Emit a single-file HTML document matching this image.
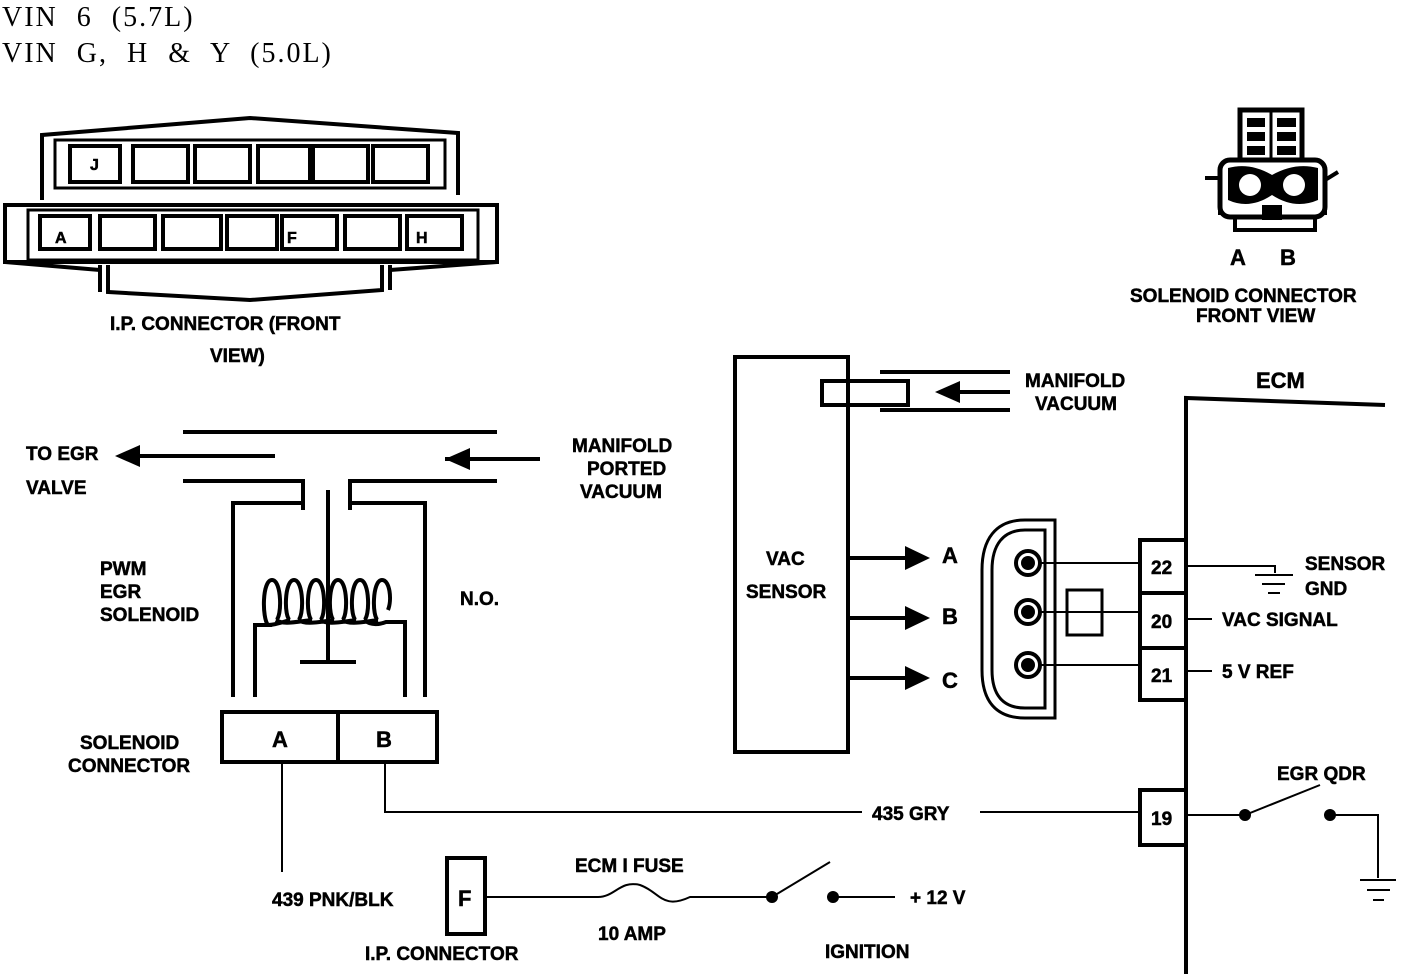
<!DOCTYPE html>
<html><head><meta charset="utf-8"><style>
html,body{margin:0;padding:0;background:#fff}
svg{display:block}
.t{font-family:"Liberation Sans",sans-serif;font-weight:bold;font-size:19px;fill:#000;stroke:#000;stroke-width:0.5}
.s{font-family:"Liberation Serif",serif;font-size:28px;fill:#000;letter-spacing:2px;word-spacing:10px}
</style></head><body>
<svg width="1408" height="974" viewBox="0 0 1408 974" xmlns="http://www.w3.org/2000/svg">
<text class="s" x="2" y="26">VIN  6  (5.7L)</text>
<text class="s" x="2" y="62">VIN  G,  H  &amp;  Y  (5.0L)</text>
<g fill="none" stroke="#000" stroke-width="4">
<!-- IP connector -->
<path d="M42,200 V135 L250,118 L458,133 V195"/>
<rect x="55" y="140" width="390" height="48" stroke-width="3"/>
<rect x="70" y="146" width="50" height="36"/><rect x="133" y="146" width="55" height="36"/><rect x="195" y="146" width="55" height="36"/><rect x="258" y="146" width="52" height="36"/><rect x="313" y="146" width="55" height="36"/><rect x="373" y="146" width="55" height="36"/>
<path d="M5,205 H497 V262 H5 Z"/>
<rect x="28" y="210" width="450" height="50" stroke-width="3"/>
<rect x="40" y="216" width="50" height="33"/><rect x="100" y="216" width="55" height="33"/><rect x="163" y="216" width="58" height="33"/><rect x="227" y="216" width="50" height="33"/><rect x="282" y="216" width="55" height="33"/><rect x="345" y="216" width="55" height="33"/><rect x="407" y="216" width="55" height="33"/>
<path d="M5,262 L100,270 M100,265 V292 M108,265 V292 L250,300 L382,290 V265 M390,265 V290 M390,270 L497,262"/>
<!-- solenoid pipes -->
<path d="M183,432 H497"/>
<path d="M130,456 H275"/><path d="M445,459 H540"/>
<path d="M183,481 H303 V510 M350,510 V481 H497"/>
<path d="M233,697 V503 H303 M350,503 H425 V697"/>
<path d="M328,490 V660 M300,662 H356"/>
<path d="M255,697 V625 H268 C262,618 262,580 272,580 C282,580 282,618 276,620 M290,620 C284,618 284,580 294,580 C304,580 304,618 298,620 M312,620 C306,618 306,580 316,580 C326,580 326,618 320,620 M334,620 C328,618 328,580 338,580 C348,580 348,618 342,620 M356,620 C350,618 350,580 360,580 C370,580 370,618 364,620 M378,620 C372,618 372,580 382,580 C390,580 392,600 388,610 M268,625 C275,625 283,622 290,620 M276,620 C283,625 295,622 312,620 M298,620 C306,625 318,622 334,620 M320,620 C328,625 340,622 356,620 M342,620 C350,625 362,622 378,620 M364,620 C370,625 378,625 386,622 H405 V697"/>
<rect x="222" y="712" width="215" height="50"/><path d="M338,712 V762"/>
<path d="M282,762 V872" stroke-width="2"/>
<path d="M385,762 V812 H862 M980,812 H1140" stroke-width="2"/>
<!-- VAC sensor -->
<rect x="735" y="357" width="113" height="395"/>
<rect x="822" y="381" width="86" height="24"/>
<path d="M880,372 H1010 M880,410 H1010 M955,392 H1010"/>
<path d="M848,558 H908 M848,618 H908 M848,678 H908"/>
<!-- connector -->
<path d="M1025,520 C995,520 982,540 982,570 V670 C982,700 995,718 1025,718 H1055 V520 Z" stroke-width="3"/>
<path d="M1025,530 C1003,530 992,545 992,570 V670 C992,695 1003,708 1025,708 H1045 V530 Z" stroke-width="3"/>
<circle cx="1028" cy="563" r="12"/><circle cx="1028" cy="612" r="12"/><circle cx="1028" cy="665" r="12"/>
<rect x="1067" y="590" width="35" height="45" stroke-width="3"/>
<path d="M1040,563 H1140 M1040,612 H1140 M1040,665 H1140" stroke-width="2"/>
<rect x="1140" y="540" width="46" height="53"/><rect x="1140" y="593" width="46" height="55"/><rect x="1140" y="648" width="46" height="52"/>
<path d="M1186,974 V398 L1385,405"/>
<path d="M1186,566 H1275 V573 M1255,575 H1293 M1262,584 H1285 M1268,593 H1280" stroke-width="2"/>
<path d="M1186,619 H1212 M1186,671 H1212" stroke-width="2"/>
<rect x="1140" y="790" width="46" height="55"/>
<path d="M1186,815 H1245 L1320,785 M1330,815 H1378 V878 M1360,880 H1396 M1367,890 H1390 M1373,900 H1384" stroke-width="2"/>
<!-- bottom -->
<rect x="447" y="858" width="38" height="76"/>
<path d="M485,897 H598 C615,897 620,880 640,885 C660,892 662,910 690,897 H772 L830,862 M833,897 H895" stroke-width="2"/>
<!-- top-right connector -->
<rect x="1240" y="110" width="62" height="50" stroke-width="5"/>
<path d="M1271,110 V160" stroke-width="3"/>
<path d="M1205,178 H1220 V215 M1325,215 V180 L1338,172" stroke-width="4"/>
<rect x="1220" y="160" width="105" height="57" rx="10" stroke-width="5"/>
<path d="M1235,217 V230 H1315 V217" stroke-width="4"/>
</g>
<g fill="#000">
<polygon points="115,456 140,445 140,467"/>
<polygon points="445,459 470,448 470,470"/>
<polygon points="935,392 960,381 960,403"/>
<polygon points="930,558 905,546 905,570"/><polygon points="930,618 905,606 905,630"/><polygon points="930,678 905,666 905,690"/>
<circle cx="1245" cy="815" r="6"/><circle cx="1330" cy="815" r="6"/>
<circle cx="772" cy="897" r="6"/><circle cx="833" cy="897" r="6"/>
<circle cx="1028" cy="563" r="7"/><circle cx="1028" cy="612" r="7"/><circle cx="1028" cy="665" r="7"/>
<rect x="1247" y="118" width="18" height="9"/><rect x="1277" y="118" width="19" height="9"/>
<rect x="1247" y="132" width="18" height="9"/><rect x="1277" y="132" width="19" height="9"/>
<rect x="1247" y="146" width="18" height="9"/><rect x="1277" y="146" width="19" height="9"/>
<path d="M1228,168 Q1250,162 1272,175 Q1295,162 1318,168 L1318,200 Q1295,210 1272,195 Q1250,210 1228,200 Z"/>
<rect x="1262" y="205" width="20" height="15"/>
</g>
<g fill="#fff"><circle cx="1250" cy="185" r="11"/><circle cx="1294" cy="185" r="11"/></g>
<g class="t">
<text x="55" y="243" font-size="16">A</text><text x="287" y="243" font-size="16">F</text><text x="416" y="243" font-size="16">H</text><text x="90" y="170" font-size="16">J</text>
<text x="110" y="330">I.P. CONNECTOR (FRONT</text><text x="210" y="362">VIEW)</text>
<text x="1230" y="265" font-size="22">A</text><text x="1280" y="265" font-size="22">B</text>
<text x="1130" y="302">SOLENOID CONNECTOR</text><text x="1196" y="322">FRONT VIEW</text>
<text x="1256" y="388" font-size="22">ECM</text>
<text x="1025" y="387">MANIFOLD</text><text x="1035" y="410">VACUUM</text>
<text x="26" y="460">TO EGR</text><text x="26" y="494">VALVE</text>
<text x="572" y="452">MANIFOLD</text><text x="587" y="475">PORTED</text><text x="580" y="498">VACUUM</text>
<text x="100" y="575">PWM</text><text x="100" y="598">EGR</text><text x="100" y="621">SOLENOID</text>
<text x="460" y="605">N.O.</text>
<text x="80" y="749">SOLENOID</text><text x="68" y="772">CONNECTOR</text>
<text x="272" y="747" font-size="22">A</text><text x="376" y="747" font-size="22">B</text>
<text x="766" y="565">VAC</text><text x="746" y="598">SENSOR</text>
<text x="942" y="563" font-size="22">A</text><text x="942" y="624" font-size="22">B</text><text x="942" y="688" font-size="22">C</text>
<text x="1151" y="574">22</text><text x="1151" y="628">20</text><text x="1151" y="682">21</text><text x="1151" y="825">19</text>
<text x="1305" y="570">SENSOR</text><text x="1305" y="595">GND</text>
<text x="1222" y="626">VAC SIGNAL</text><text x="1222" y="678">5 V REF</text>
<text x="1277" y="780">EGR QDR</text>
<text x="872" y="820">435 GRY</text>
<text x="272" y="906">439 PNK/BLK</text>
<text x="458" y="906" font-size="22">F</text>
<text x="365" y="960">I.P. CONNECTOR</text>
<text x="575" y="872">ECM I FUSE</text><text x="598" y="940">10 AMP</text>
<text x="910" y="904">+ 12 V</text><text x="825" y="958">IGNITION</text>
</g>
</svg>
</body></html>
